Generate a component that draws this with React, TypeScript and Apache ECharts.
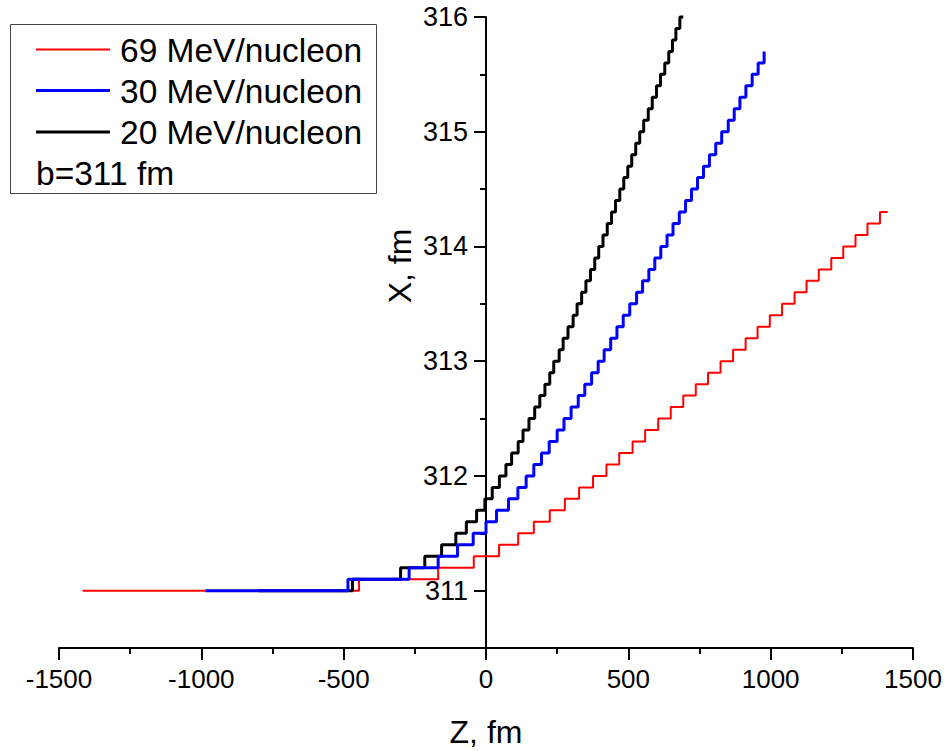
import React, { useEffect, useRef } from "react";
import * as echarts from "echarts";

// Legend / series names
const seriesNames = ["69 MeV/nucleon", "30 MeV/nucleon", "20 MeV/nucleon"];
const impactText = "b=311 fm";
const xAxisTitle = "Z, fm";
const yAxisTitle = "X, fm";

// 69 MeV/nucleon (red): Z positions of each point (step turns at each point)
const redZ = [
  -1417, -446, -168, -43, 46, 113, 168, 224, 277, 327, 376, 423, 468, 515, 559,
  605, 649, 693, 737, 780, 824, 868, 912, 954, 997, 1040, 1084, 1126, 1169,
  1213, 1255, 1298, 1340, 1384, 1411,
];
const redX = [
  311.0, 311.1, 311.2, 311.3, 311.4, 311.5, 311.6, 311.7, 311.8, 311.9, 312.0,
  312.1, 312.2, 312.3, 312.4, 312.5, 312.6, 312.7, 312.8, 312.9, 313.0, 313.1,
  313.2, 313.3, 313.4, 313.5, 313.6, 313.7, 313.8, 313.9, 314.0, 314.1, 314.2,
  314.3, 314.3,
];

// 30 MeV/nucleon (blue)
const blueZ = [
  -985, -485, -270, -168, -100, -45, 0, 37, 79, 112, 141, 168, 195, 222, 250,
  274, 299, 324, 347, 371, 394, 415, 438, 460, 482, 505, 529, 550, 572, 593,
  614, 636, 657, 679, 701, 722, 743, 764, 785, 807, 828, 851, 872, 892, 913,
  935, 956, 977,
];
const blueX = [
  311.0, 311.1, 311.2, 311.3, 311.4, 311.5, 311.6, 311.7, 311.8, 311.9, 312.0,
  312.1, 312.2, 312.3, 312.4, 312.5, 312.6, 312.7, 312.8, 312.9, 313.0, 313.1,
  313.2, 313.3, 313.4, 313.5, 313.6, 313.7, 313.8, 313.9, 314.0, 314.1, 314.2,
  314.3, 314.4, 314.5, 314.6, 314.7, 314.8, 314.9, 315.0, 315.1, 315.2, 315.3,
  315.4, 315.5, 315.6, 315.7,
];

// 20 MeV/nucleon (black)
const blackZ = [
  -800, -469, -300, -215, -156, -106, -69, -33, -4, 22, 47, 70, 90, 113, 130,
  151, 171, 189, 207, 224, 238, 257, 271, 288, 306, 320, 336, 351, 367, 382,
  396, 411, 426, 441, 455, 470, 484, 498, 512, 526, 540, 554, 570, 584, 599,
  613, 628, 642, 655, 667, 681, 693,
];
const blackX = [
  311.0, 311.1, 311.2, 311.3, 311.4, 311.5, 311.6, 311.7, 311.8, 311.9, 312.0,
  312.1, 312.2, 312.3, 312.4, 312.5, 312.6, 312.7, 312.8, 312.9, 313.0, 313.1,
  313.2, 313.3, 313.4, 313.5, 313.6, 313.7, 313.8, 313.9, 314.0, 314.1, 314.2,
  314.3, 314.4, 314.5, 314.6, 314.7, 314.8, 314.9, 315.0, 315.1, 315.2, 315.3,
  315.4, 315.5, 315.6, 315.7, 315.8, 315.9, 316.0, 316.0,
];

const FONT = "'Liberation Sans', Arial, Helvetica, sans-serif";

function pairs(z: number[], x: number[]) {
  return z.map((v, i) => [v, x[i]]);
}

export default function App() {
  const ref = useRef<HTMLDivElement>(null);

  useEffect(() => {
    const chart = echarts.init(ref.current!, null, { renderer: "svg" });
    const axisLineStyle = { color: "#000", width: 2 };
    chart.setOption({
      animation: false,
      backgroundColor: "#fff",
      textStyle: { fontFamily: FONT },
      grid: {
        left: 59,
        right: 35,
        top: 17,
        bottom: 103,
        containLabel: false,
        outerBoundsMode: "none",
      },
      xAxis: {
        type: "value",
        min: -1500,
        max: 1500,
        interval: 500,
        axisLine: { onZero: false, lineStyle: axisLineStyle },
        axisTick: { show: true, length: 12, lineStyle: axisLineStyle },
        minorTick: { show: true, splitNumber: 2, length: 6, lineStyle: axisLineStyle },
        splitLine: { show: false },
        minorSplitLine: { show: false },
        axisLabel: {
          fontSize: 26,
          color: "#000",
          margin: 18,
          fontFamily: FONT,
          formatter: (v: number) => String(v),
        },
        name: xAxisTitle,
        nameLocation: "middle",
        nameGap: 68,
        nameTextStyle: { fontSize: 32, color: "#000", fontFamily: FONT },
      },
      yAxis: {
        type: "value",
        min: 310.5,
        max: 316,
        splitNumber: 5,
        axisLine: { onZero: true, lineStyle: axisLineStyle },
        axisTick: { show: true, length: 12, lineStyle: axisLineStyle },
        minorTick: { show: true, splitNumber: 2, length: 6, lineStyle: axisLineStyle },
        splitLine: { show: false },
        minorSplitLine: { show: false },
        axisLabel: {
          showMinLabel: false,
          fontSize: 27,
          color: "#000",
          margin: -409,
          fontFamily: FONT,
          formatter: (v: number) => String(v),
        },
      },
      series: [
        {
          name: seriesNames[0],
          type: "line",
          step: "end",
          showSymbol: false,
          symbol: "none",
          clip: false,
          data: pairs(redZ, redX),
          lineStyle: { color: "#ff0000", width: 2 },
          itemStyle: { color: "#ff0000" },
        },
        {
          name: seriesNames[2],
          type: "line",
          step: "end",
          showSymbol: false,
          symbol: "none",
          clip: false,
          data: pairs(blackZ, blackX),
          lineStyle: { color: "#000000", width: 3 },
          itemStyle: { color: "#000000" },
        },
        {
          name: seriesNames[1],
          type: "line",
          step: "end",
          showSymbol: false,
          symbol: "none",
          clip: false,
          data: pairs(blueZ, blueX),
          lineStyle: { color: "#0000ff", width: 3 },
          itemStyle: { color: "#0000ff" },
        },
      ],
      graphic: [
        {
          type: "text",
          x: 400,
          y: 266,
          rotation: Math.PI / 2,
          style: {
            text: yAxisTitle,
            fontSize: 32,
            fontFamily: FONT,
            fill: "#000",
            align: "center",
            verticalAlign: "middle",
          },
        },
        {
          type: "rect",
          z: 100,
          shape: { x: 10.5, y: 24.5, width: 366, height: 169 },
          style: { fill: "#fff", stroke: "#444", lineWidth: 1 },
        },
        {
          type: "line",
          z: 101,
          shape: { x1: 36, y1: 49.5, x2: 110, y2: 49.5 },
          style: { stroke: "#ff0000", lineWidth: 2 },
        },
        {
          type: "line",
          z: 101,
          shape: { x1: 36, y1: 90.5, x2: 110, y2: 90.5 },
          style: { stroke: "#0000ff", lineWidth: 3 },
        },
        {
          type: "line",
          z: 101,
          shape: { x1: 36, y1: 132, x2: 110, y2: 132 },
          style: { stroke: "#000000", lineWidth: 3 },
        },
        {
          type: "text",
          z: 101,
          x: 120,
          y: 50,
          style: { text: seriesNames[0], fontSize: 33.5, fontFamily: FONT, fill: "#000", verticalAlign: "middle" },
        },
        {
          type: "text",
          z: 101,
          x: 120,
          y: 91,
          style: { text: seriesNames[1], fontSize: 33.5, fontFamily: FONT, fill: "#000", verticalAlign: "middle" },
        },
        {
          type: "text",
          z: 101,
          x: 120,
          y: 132,
          style: { text: seriesNames[2], fontSize: 33.5, fontFamily: FONT, fill: "#000", verticalAlign: "middle" },
        },
        {
          type: "text",
          z: 101,
          x: 36,
          y: 173,
          style: { text: impactText, fontSize: 33.5, fontFamily: FONT, fill: "#000", verticalAlign: "middle" },
        },
      ],
    });
    return () => chart.dispose();
  }, []);

  return (
    <div
      ref={ref}
      style={{ position: "fixed", left: 0, top: 0, width: 948, height: 751, background: "#fff" }}
    />
  );
}
